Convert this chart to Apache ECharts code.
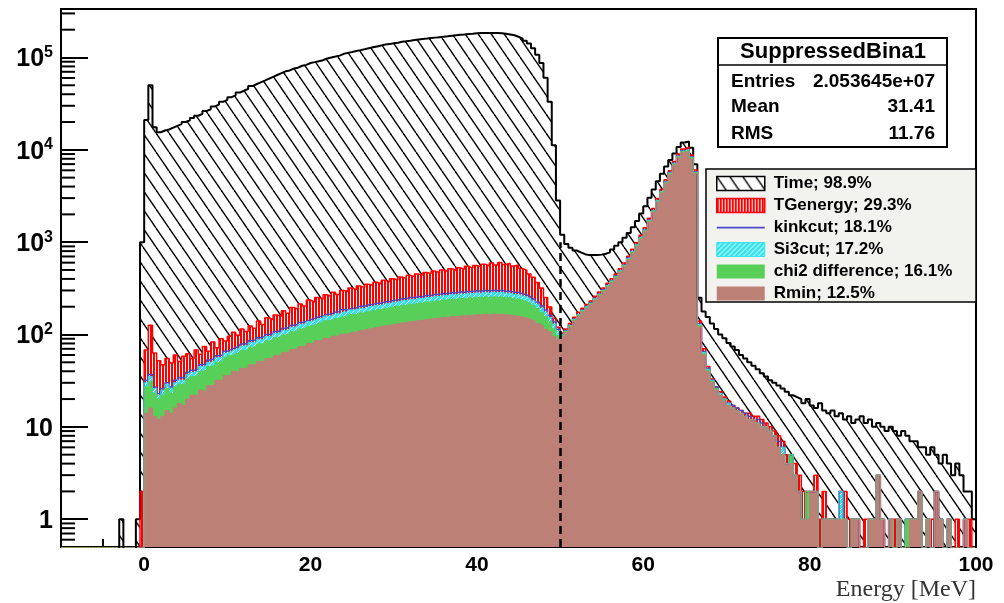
<!DOCTYPE html>
<html><head><meta charset="utf-8">
<script src="https://cdn.jsdelivr.net/npm/echarts@6/dist/echarts.min.js"></script>
<style>html,body{margin:0;padding:0;background:#fff}#c{width:1004px;height:603px}</style>
</head><body><div id="c"></div>
<script>
// ---- histogram binning (energy, MeV) ----
const binLow = -10, binWidth = 0.5;
const FLOOR = 0.05; // empty bins drawn below the log axis minimum

// ---- series counts, one value per 0.5 MeV bin from -10 to 100 (220 bins) ----
const timeCounts = [
  0,0,0,0,0,0,0,0,0,0,
  0,0,0,0,1,0,0,0,1,1000,
  21000,50000,17600,15500,16200,16600,17400,18200,19000,20000,
  20900,22100,23400,24500,26300,27500,29500,30900,33100,34700,
  37200,38900,41700,43600,45700,49000,51300,53700,56200,58900,
  61700,64600,67600,70800,72400,75900,77600,81300,83200,87100,
  89100,91200,93300,97700,100000,102300,104700,109600,112200,114800,
  117500,120200,123000,125900,128800,131800,134900,138000,139600,142900,
  144500,147900,149600,151400,154900,156700,158500,160300,162200,164100,
  166000,167900,169800,171800,173800,175800,177800,179900,181100,182800,
  183700,184100,184500,184500,184100,183200,181100,177800,173800,167900,
  160300,151400,141300,125900,107200,87100,60300,33100,11200,2820,
  1200,955,871,813,776,741,724,724,724,733,
  750,776,832,912,1000,1120,1260,1450,1700,2040,
  2450,3020,3720,4570,5500,6610,7760,9120,10700,12000,
  12300,10500,7000,250,178,155,132,115,100,91,
  81,74,68,60,55,50,46,42,38,35,
  32,30,28,26,24,22,21,20,18,20,
  17,16,18,15,14,15,13,14,12,13,
  11,12,13,11,12,10,11,10,9,10,
  9,8,9,8,7,7,6,6,5,6,
  5,4,5,4,3,4,3,2,2,1
];
const tgEnergyCounts = [
  0,0,0,0,0,0,0,0,0,0,
  0,0,0,0,0,0,0,0,0,2,
  68,126,63,52,47,55,49,60,51,58,
  62,55,68,61,74,66,83,72,90,85,
  96,106,98,115,108,124,117,140,128,152,
  145,163,158,181,170,196,188,214,203,236,
  225,252,241,270,258,286,272,300,292,318,
  306,335,322,350,341,368,352,386,372,402,
  390,420,404,438,421,452,440,470,455,486,
  466,500,482,516,497,530,508,548,522,560,
  538,578,552,596,565,602,572,590,552,565,
  518,498,452,418,365,318,252,198,150,120,
  104,115,132,154,174,193,211,231,259,288,
  319,358,402,451,517,594,704,836,990,1188,
  1430,1815,2310,2970,3740,4730,5940,7480,9020,10230,
  10670,8800,6050,140,70,45,33,27,24,21,
  19,17,16,15,14,14,13,13,12,11,
  10,9,8,7,5,5,4,3,2,2,
  2,3,1,2,1,1,1,2,2,1,
  1,1,0,1,1,1,3,1,0,1,
  1,1,0,1,1,1,2,0,1,1,
  2,1,0,1,0,1,0,1,1,0
];
const kinkcutCounts = [
  0,0,0,0,0,0,0,0,0,0,
  0,0,0,0,0,0,0,0,0,0,
  32,37,27,23,26,30,27,32,34,34,
  39,41,42,47,48,53,55,59,60,66,
  69,72,75,79,80,86,87,92,95,100,
  102,108,110,117,119,126,128,135,138,145,
  149,156,158,166,167,175,176,185,184,193,
  194,203,202,210,212,218,218,227,227,235,
  236,244,244,252,251,258,257,266,265,273,
  272,278,277,285,282,290,287,294,292,297,
  294,301,296,302,297,301,294,295,286,286,
  276,268,256,243,225,204,184,161,137,114,
  100,110,126,147,166,184,202,221,247,275,
  305,341,383,431,494,567,672,798,945,1134,
  1365,1733,2205,2835,3570,4515,5670,7140,8610,9765,
  10185,8400,5775,130,65,43,32,27,23,20,
  18,17,16,15,14,13,12,12,11,10,
  9,8,7,6,4,5,3,2,1,2,
  2,2,0,1,1,1,1,2,1,0,
  1,1,0,0,1,1,3,1,0,1,
  0,1,0,1,1,1,2,0,1,0,
  2,1,0,1,0,0,0,1,0,0
];
const si3cutCounts = [
  0,0,0,0,0,0,0,0,0,0,
  0,0,0,0,0,0,0,0,0,0,
  30,35,26,22,25,29,26,30,32,32,
  37,39,40,45,46,50,52,56,57,63,
  66,69,71,75,76,82,83,88,90,95,
  97,103,105,111,113,120,122,129,131,138,
  142,149,150,158,159,167,168,176,175,184,
  185,193,192,200,202,208,208,216,216,224,
  225,232,232,240,239,246,245,253,252,260,
  259,265,264,271,269,276,273,280,278,283,
  280,287,282,288,283,287,280,281,272,272,
  263,255,244,231,214,194,175,153,130,109,
  99,109,125,146,164,182,200,218,244,272,
  302,338,380,426,489,562,666,790,936,1123,
  1352,1716,2184,2808,3536,4472,5616,7072,8528,9672,
  10088,8320,5720,128,64,42,32,26,23,20,
  18,16,15,14,13,12,12,11,10,10,
  9,8,6,6,4,5,3,2,1,2,
  2,2,0,1,1,1,1,2,1,0,
  1,1,0,0,1,1,3,1,0,1,
  0,1,0,1,1,1,2,0,1,0,
  2,1,0,1,0,0,0,1,0,0
];
const chi2Counts = [
  0,0,0,0,0,0,0,0,0,0,
  0,0,0,0,0,0,0,0,0,0,
  27,31,23,20,22,26,23,27,29,29,
  33,35,36,40,41,45,46,50,51,56,
  59,62,63,67,68,73,74,79,80,85,
  87,92,94,99,101,107,109,115,117,123,
  127,133,134,141,142,149,150,157,156,164,
  165,172,171,179,180,186,186,193,193,200,
  201,207,207,214,213,220,219,226,225,232,
  231,237,236,242,240,246,244,250,248,253,
  250,256,252,257,253,256,250,251,243,243,
  235,228,218,206,191,173,156,137,116,97,
  98,108,124,144,163,180,198,216,242,270,
  299,335,376,422,484,556,659,783,927,1112,
  1339,1700,2163,2781,3502,4429,5562,7004,8446,9579,
  9991,8240,5665,125,62,41,31,26,22,20,
  17,16,15,14,13,12,12,11,10,10,
  9,8,6,5,4,5,3,2,1,2,
  2,2,0,1,1,1,1,1,1,0,
  1,1,0,0,1,1,3,1,0,1,
  0,1,0,1,1,1,2,0,1,0,
  2,1,0,1,0,0,0,1,0,0
];
const rminCounts = [
  0,0,0,0,0,0,0,0,0,0,
  0,0,0,0,0,0,0,0,0,0,
  14,16,13,12,13,15,14,16,18,17,
  20,22,22,25,24,28,28,32,32,36,
  36,40,39,43,43,47,47,51,51,55,
  55,59,60,64,65,69,70,74,75,80,
  81,86,86,91,91,96,96,101,101,106,
  106,111,111,115,116,120,121,125,125,129,
  130,134,134,138,138,142,142,146,146,150,
  150,154,153,157,156,159,159,162,161,164,
  163,166,164,167,165,166,163,163,159,159,
  154,152,145,141,131,125,114,107,95,88,
  95,105,120,140,158,175,192,210,235,262,
  290,325,365,410,470,540,640,760,900,1080,
  1300,1650,2100,2700,3400,4300,5400,6800,8200,9300,
  9700,8000,5500,120,60,40,30,25,22,19,
  17,16,15,14,13,12,12,11,10,10,
  9,8,6,5,4,4,3,2,1,1,
  2,2,0,1,1,1,1,1,1,0,
  1,1,0,0,1,1,3,1,0,1,
  0,1,0,0,1,1,2,0,1,0,
  2,1,0,1,0,0,0,1,0,0
];

const seriesNames = ['Time; 98.9%','TGenergy; 29.3%','kinkcut; 18.1%','Si3cut; 17.2%','chi2 difference; 16.1%','Rmin; 12.5%'];
const xTickLabels = [0,20,40,60,80,100];
const yDecadeLabels = [1,10,100,1000,10000,100000];
const statsTitle = 'SuppressedBina1';
const statsRows = [['Entries','2.053645e+07'],['Mean','31.41'],['RMS','11.76']];
const cutLineE = 50, cutLineTop = 1000;

// ---- patterns ----
function hatchPattern(bg) {
  const c = document.createElement('canvas'); c.width = 13; c.height = 19;
  const g = c.getContext('2d');
  if (bg) { g.fillStyle = bg; g.fillRect(0,0,13,19); }
  g.strokeStyle = '#000'; g.lineWidth = 1.4;
  for (const dx of [-13,0,13]) { g.beginPath(); g.moveTo(dx,0); g.lineTo(dx+13,19); g.stroke(); }
  return {image: c, repeat: 'repeat'};
}
function vertPattern() {
  const c = document.createElement('canvas'); c.width = 3; c.height = 4;
  const g = c.getContext('2d');
  g.fillStyle = '#fff'; g.fillRect(0,0,3,4);
  g.fillStyle = '#ff0000'; g.fillRect(0,0,2,4);
  return {image: c, repeat: 'repeat'};
}
function cyanPattern() {
  const c = document.createElement('canvas'); c.width = 5; c.height = 5;
  const g = c.getContext('2d');
  g.fillStyle = '#33e3ee'; g.fillRect(0,0,5,5);
  g.strokeStyle = '#ffffff'; g.lineWidth = 1;
  for (const dx of [-5,0,5]) { g.beginPath(); g.moveTo(dx,5); g.lineTo(dx+5,0); g.stroke(); }
  return {image: c, repeat: 'repeat'};
}

function steps(counts) {
  const pts = counts.map((v,i) => [binLow + i*binWidth, v > 0 ? v : FLOOR]);
  pts.push([binLow + counts.length*binWidth, FLOOR]);
  return pts;
}

const FONT = '"Liberation Sans", Arial, Helvetica, sans-serif';
const colors = {time:'#000000', tg:'#ff0000', kink:'#4848c8', si3:'#33e3ee', chi2:'#58cf58', rmin:'#bd8077'};

function histSeries(name, counts, lineColor, lineWidth, area, extra) {
  const s = {
    name, type:'line', step:'end', data: steps(counts), symbol:'none', showSymbol:false,
    silent:true, animation:false, clip:true,
    lineStyle:{color: lineColor, width: lineWidth},
    itemStyle:{color: lineColor}
  };
  if (area) s.areaStyle = {color: area, opacity: 1, origin: 'start'};
  return Object.assign(s, extra || {});
}

// minor ticks for the log axis (2..9 x 10^k)
const minorTicks = [];
for (let k = -1; k <= 5; k++) for (let m = 2; m <= 9; m++) {
  const v = m * Math.pow(10, k);
  if (v > 0.5 && v < 3.35e5) minorTicks.push(v);
}

const chart = echarts.init(document.getElementById('c'), null, {renderer:'canvas'});
const option = {
  animation: false,
  backgroundColor: '#ffffff',
  grid: {left:61, right:28, top:9, bottom:56, show:true, borderColor:'#000', borderWidth:2, backgroundColor:'rgba(0,0,0,0)'},
  xAxis: {
    type:'value', min:-10, max:100, interval:10,
    axisLine:{show:true, onZero:false, lineStyle:{color:'#000', width:2}},
    axisTick:{show:true, inside:true, length:16, lineStyle:{color:'#000', width:2}},
    minorTick:{show:true, splitNumber:2, length:8, lineStyle:{color:'#000', width:2}},
    splitLine:{show:false},
    axisLabel:{
      formatter: v => (xTickLabels.indexOf(v) >= 0 ? String(v) : ''),
      color:'#000', fontFamily: FONT, fontWeight:'bold', fontSize:21, margin:8
    },
    name:'Energy [MeV]', nameLocation:'end', nameGap:0,
    nameTextStyle:{fontFamily:'"Liberation Serif", "Times New Roman", serif', fontSize:24, color:'#333', align:'right', verticalAlign:'top', padding:[31,0,0,0]}
  },
  yAxis: {
    type:'log', logBase:10, min:0.5, max:3.35e5,
    axisLine:{show:true, onZero:false, lineStyle:{color:'#000', width:2}},
    axisTick:{show:true, inside:true, length:27, lineStyle:{color:'#000', width:2}},
    minorTick:{show:false}, splitLine:{show:false},
    axisLabel:{
      margin:8,
      formatter: v => {
        const e = Math.log10(v), r = Math.round(e);
        if (Math.abs(e - r) > 1e-6 || yDecadeLabels.indexOf(Math.pow(10, r)) < 0) return '';
        if (r === 0) return '{b|1}';
        if (r === 1) return '{b|10}';
        return '{b|10}{s|' + r + '}';
      },
      rich:{
        b:{fontFamily:FONT, fontWeight:'bold', fontSize:25, color:'#000', lineHeight:26, padding:[4,0,0,0]},
        s:{fontFamily:FONT, fontWeight:'bold', fontSize:16, color:'#000', verticalAlign:'top', lineHeight:16}
      }
    }
  },
  legend: {
    orient:'vertical', left:716, top:175, padding:0, itemWidth:48, itemHeight:14, itemGap:5,
    selectedMode:false, z:200,
    textStyle:{fontFamily:FONT, fontWeight:'bold', fontSize:17, color:'#000', padding:[0,0,0,4]},
    data:[
      {name:seriesNames[0], icon:'rect', itemStyle:{color:hatchPattern('#ffffff'), borderColor:'#000', borderWidth:1.5}},
      {name:seriesNames[1], icon:'rect', itemStyle:{color:vertPattern(), borderColor:'#ff0000', borderWidth:1.5}},
      {name:seriesNames[2], icon:'path://M0,0h0.01v0.01h-0.01z M0,6.2h48v1.8h-48z M47.99,13.99h0.01v0.01h-0.01z', itemStyle:{color:colors.kink, borderWidth:0}},
      {name:seriesNames[3], icon:'rect', itemStyle:{color:cyanPattern(), borderColor:colors.si3, borderWidth:1}},
      {name:seriesNames[4], icon:'rect', itemStyle:{color:colors.chi2, borderWidth:0}},
      {name:seriesNames[5], icon:'rect', itemStyle:{color:colors.rmin, borderWidth:0}}
    ]
  },
  graphic: [
    {type:'rect', z:100, silent:true, shape:{x:706, y:169, width:270, height:133}, style:{fill:'#f2f2ef', stroke:'#000', lineWidth:1.5}},
    {type:'rect', z:100, silent:true, shape:{x:718, y:38, width:229, height:109}, style:{fill:'#fff', stroke:'#000', lineWidth:2}},
    {type:'line', z:101, silent:true, shape:{x1:718, y1:65, x2:947, y2:65}, style:{stroke:'#000', lineWidth:1.5}},
    {type:'text', z:101, silent:true, x:833, y:52, style:{text:statsTitle, fontFamily:FONT, fontWeight:'bold', fontSize:22, fill:'#000', align:'center', verticalAlign:'middle'}}
  ].concat(statsRows.flatMap((row, k) => {
    const y = [82, 107, 134][k];
    return [
      {type:'text', z:101, silent:true, x:731, y:y, style:{text:row[0], fontFamily:FONT, fontWeight:'bold', fontSize:19, fill:'#000', align:'left', verticalAlign:'middle'}},
      {type:'text', z:101, silent:true, x:935, y:y, style:{text:row[1], fontFamily:FONT, fontWeight:'bold', fontSize:19, fill:'#000', align:'right', verticalAlign:'middle'}}
    ];
  })),
  series: [
    histSeries(seriesNames[0], timeCounts, colors.time, 2, hatchPattern(null)),
    histSeries(seriesNames[1], tgEnergyCounts, colors.tg, 1.5, vertPattern()),
    histSeries(seriesNames[2], kinkcutCounts, colors.kink, 1.5, null),
    histSeries(seriesNames[3], si3cutCounts, colors.si3, 1, cyanPattern()),
    histSeries(seriesNames[4], chi2Counts, colors.chi2, 1, colors.chi2),
    histSeries(seriesNames[5], rminCounts, colors.rmin, 1, colors.rmin, {
      markLine:{
        silent:true, symbol:['none','none'], label:{show:false}, animation:false,
        lineStyle:{color:'#000', width:2.5, type:[8,5]},
        data:[[{coord:[cutLineE, 0.5]}, {coord:[cutLineE, cutLineTop]}]]
      }
    }),
    {
      name:'yMinorTicks', type:'custom', silent:true, z:5, clip:false,
      data: minorTicks.map(v => [binLow, v]),
      encode:{x:0, y:1},
      renderItem: (params, api) => {
        const p = api.coord([api.value(0), api.value(1)]);
        return {type:'line', shape:{x1:p[0], y1:p[1], x2:p[0]+14, y2:p[1]}, style:{stroke:'#000', lineWidth:2}};
      }
    }
  ]
};
chart.setOption(option);
</script>
</body></html>
